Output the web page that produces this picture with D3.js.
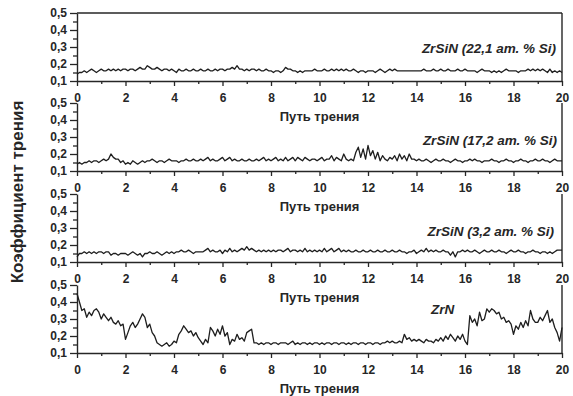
<!DOCTYPE html>
<html>
<head>
<meta charset="utf-8">
<script src="https://cdn.jsdelivr.net/npm/d3@7"></script>
<style>
  body { margin: 0; background: #fff; }
  text { font-family: "Liberation Sans", Arial, sans-serif; }
</style>
</head>
<body>
<script>

// friction distance, 0..20 step 0.1
var path_x = d3.range(0, 201).map(function(i){ return i / 10; });

// panel names, top to bottom
var panel_names = ["ZrSiN (22,1 ат. % Si)", "ZrSiN (17,2 ат. % Si)", "ZrSiN (3,2 ат. % Si)", "ZrN"];

var x_ticks = [0, 2, 4, 6, 8, 10, 12, 14, 16, 18, 20];
var y_ticks = [0.1, 0.2, 0.3, 0.4, 0.5];

// friction coefficient
var mu_22 = [.14,.15,.15,.16,.15,.16,.17,.16,.15,.16,
  .17,.16,.16,.17,.16,.17,.16,.17,.16,.17,
  .17,.16,.17,.17,.16,.17,.18,.17,.17,.19,
  .18,.17,.17,.18,.17,.16,.17,.17,.16,.17,
  .16,.15,.17,.16,.16,.17,.16,.16,.17,.16,
  .16,.17,.16,.16,.17,.16,.16,.17,.16,.17,
  .17,.16,.17,.17,.18,.17,.19,.17,.17,.16,
  .17,.16,.17,.17,.16,.17,.16,.16,.17,.16,
  .16,.15,.16,.16,.15,.16,.18,.17,.17,.16,
  .16,.15,.16,.15,.16,.16,.16,.16,.17,.16,
  .16,.16,.17,.16,.16,.17,.16,.17,.16,.17,
  .16,.17,.16,.16,.17,.16,.15,.16,.16,.15,
  .16,.16,.16,.15,.16,.17,.16,.15,.16,.17,
  .16,.17,.16,.16,.16,.16,.16,.16,.16,.16,
  .16,.16,.16,.17,.16,.16,.16,.17,.16,.16,
  .17,.16,.16,.17,.16,.16,.16,.17,.16,.16,
  .17,.16,.16,.16,.16,.15,.16,.17,.16,.16,
  .16,.15,.16,.15,.16,.15,.16,.17,.16,.16,
  .16,.16,.15,.16,.16,.16,.17,.16,.17,.16,
  .17,.16,.17,.16,.15,.17,.15,.16,.15,.16,
  .15];

var mu_17 = [.14,.15,.14,.15,.15,.16,.15,.16,.16,.15,
  .16,.17,.16,.17,.20,.18,.17,.17,.15,.16,
  .14,.15,.14,.16,.15,.14,.15,.16,.15,.16,
  .16,.17,.16,.15,.16,.16,.15,.16,.17,.16,
  .16,.16,.15,.16,.16,.17,.16,.16,.17,.16,
  .16,.17,.16,.17,.18,.16,.17,.16,.16,.17,
  .18,.16,.17,.18,.16,.17,.16,.16,.17,.16,
  .16,.17,.16,.16,.17,.16,.17,.18,.16,.17,
  .16,.17,.18,.16,.17,.16,.18,.16,.17,.18,
  .16,.18,.17,.16,.18,.17,.16,.17,.17,.16,
  .17,.18,.16,.17,.17,.19,.16,.18,.17,.16,
  .20,.17,.16,.17,.16,.21,.24,.18,.23,.17,
  .25,.19,.22,.17,.21,.16,.19,.17,.16,.18,
  .17,.19,.16,.20,.17,.19,.16,.20,.17,.17,
  .16,.17,.16,.16,.17,.16,.15,.16,.17,.16,
  .16,.17,.16,.16,.15,.16,.17,.16,.16,.15,
  .16,.16,.17,.16,.17,.16,.16,.15,.16,.16,
  .16,.17,.16,.16,.15,.16,.16,.17,.16,.16,
  .15,.16,.16,.17,.16,.16,.15,.16,.16,.17,
  .16,.16,.17,.16,.16,.15,.16,.17,.16,.16,
  .16];

var mu_3 = [.13,.15,.15,.16,.15,.16,.15,.16,.15,.16,
  .16,.15,.16,.16,.14,.15,.15,.14,.15,.15,
  .15,.14,.15,.16,.15,.14,.15,.13,.15,.15,
  .16,.15,.15,.16,.15,.14,.15,.16,.15,.16,
  .15,.16,.16,.17,.16,.16,.17,.16,.15,.16,
  .16,.16,.16,.17,.18,.16,.17,.16,.16,.17,
  .15,.17,.16,.18,.16,.17,.16,.17,.18,.17,
  .19,.17,.18,.17,.16,.17,.16,.17,.16,.17,
  .16,.17,.16,.17,.17,.16,.17,.18,.16,.17,
  .17,.16,.17,.16,.18,.16,.17,.16,.17,.16,
  .17,.16,.18,.16,.17,.18,.16,.17,.18,.16,
  .17,.16,.17,.16,.16,.17,.16,.16,.17,.16,
  .16,.17,.16,.16,.17,.16,.16,.17,.16,.16,
  .17,.16,.16,.17,.16,.16,.15,.16,.16,.17,
  .15,.16,.17,.16,.18,.16,.17,.16,.17,.16,
  .16,.17,.16,.16,.14,.16,.13,.16,.16,.17,
  .16,.17,.16,.16,.17,.16,.15,.16,.17,.16,
  .16,.17,.16,.16,.17,.16,.16,.15,.16,.17,
  .16,.16,.17,.16,.16,.15,.16,.16,.17,.16,
  .16,.15,.16,.16,.15,.16,.15,.16,.17,.17,
  .17];

var mu_zrn = [.45,.40,.35,.36,.31,.34,.32,.35,.36,.34,
  .30,.33,.31,.29,.31,.28,.27,.29,.26,.27,
  .18,.22,.26,.28,.25,.27,.30,.33,.31,.25,
  .27,.22,.20,.16,.15,.14,.15,.16,.14,.15,
  .17,.16,.21,.23,.26,.24,.22,.23,.20,.22,
  .19,.17,.15,.18,.16,.25,.23,.20,.24,.21,
  .26,.20,.22,.15,.18,.17,.21,.18,.19,.17,
  .22,.23,.24,.16,.16,.15,.16,.15,.16,.16,
  .15,.16,.16,.15,.16,.16,.16,.15,.16,.17,
  .15,.16,.15,.16,.16,.15,.16,.15,.16,.16,
  .15,.16,.15,.16,.16,.15,.16,.16,.15,.16,
  .16,.15,.16,.15,.16,.16,.15,.16,.16,.15,
  .16,.16,.15,.16,.16,.15,.16,.16,.17,.16,
  .17,.16,.16,.17,.16,.21,.18,.19,.17,.18,
  .17,.18,.17,.16,.18,.17,.17,.16,.18,.17,
  .19,.17,.20,.18,.21,.19,.17,.20,.18,.21,
  .17,.15,.32,.28,.30,.26,.34,.29,.30,.36,
  .34,.36,.35,.33,.34,.30,.31,.28,.29,.27,
  .21,.26,.24,.28,.25,.29,.26,.35,.30,.28,
  .28,.31,.29,.32,.35,.28,.30,.25,.22,.17,
  .25];

var all_series = [mu_22, mu_17, mu_3, mu_zrn];

var w = 573, h = 396;
var ink = "#262626";
var panel_tops = [13, 103, 194, 285];
var panel_h = 68;
var x_left = 77, x_right = 562;

var svg = d3.select("body").append("svg")
  .attr("width", w)
  .attr("height", h);

var x = d3.scaleLinear().domain([0, 20]).range([x_left, x_right]);

var fmt = function(d){ return d3.format(".1f")(d).replace(".", ","); };

// label placement for each panel (name pos)
var name_x = [556, 557, 554, 431];
var name_y = [53, 145, 236, 314];
var name_anchor = ["end", "end", "end", "start"];

for (var p = 0; p < 4; p++){
  // NB: "top" is window.top, don't use it
  var p_top = panel_tops[p];
  var p_bot = p_top + panel_h;
  var y = d3.scaleLinear().domain([0.1, 0.5]).range([p_bot, p_top]);
  var g = svg.append("g").attr("class", "panel" + p);

  // minor ticks first, no labels
  g.append("g")
    .attr("transform", "translate(0," + p_bot + ")")
    .call(d3.axisBottom(x).tickValues(d3.range(1, 20, 2)).tickSize(3).tickFormat(""))
    .call(function(a){ a.select(".domain").remove(); });
  g.append("g")
    .attr("transform", "translate(" + x_left + ",0)")
    .call(d3.axisLeft(y).tickValues([0.15, 0.25, 0.35, 0.45]).tickSize(4).tickFormat(""))
    .call(function(a){ a.select(".domain").remove(); });

  // x axis
  g.append("g")
    .attr("class", "xaxis")
    .attr("transform", "translate(0," + p_bot + ")")
    .call(d3.axisBottom(x).tickValues(x_ticks).tickSize(5).tickPadding(7).tickSizeOuter(0));

  // y axis
  g.append("g")
    .attr("class", "yaxis")
    .attr("transform", "translate(" + x_left + ",0)")
    .call(d3.axisLeft(y).tickValues(y_ticks).tickSize(7).tickPadding(3).tickSizeOuter(0).tickFormat(fmt));

  // right border
  g.append("line")
    .attr("x1", x_right).attr("x2", x_right)
    .attr("y1", p_top).attr("y2", p_bot)
    .style("stroke", ink).style("stroke-width", 1.4);

  if (p == 0){
    g.append("line")
      .attr("x1", x_left).attr("x2", x_right)
      .attr("y1", p_top).attr("y2", p_top)
      .style("stroke", ink).style("stroke-width", 1.4);
  }

  // the friction trace
  var line = d3.line()
    .x(function(d, i){ return x(path_x[i]); })
    .y(function(d){ return y(d); });

  g.append("path")
    .datum(all_series[p])
    .attr("d", line)
    .style("fill", "none")
    .style("stroke", "#1e1e1e")
    .style("stroke-width", 1.3)
    .style("stroke-linejoin", "round");

  g.append("text")
    .attr("x", name_x[p]).attr("y", name_y[p])
    .attr("text-anchor", name_anchor[p])
    .style("font-size", "13.5px").style("font-weight", "bold").style("font-style", "italic")
    .style("fill", ink)
    .text(panel_names[p]);

  g.append("text")
    .attr("x", (x_left + x_right) / 2).attr("y", p_bot + 40)
    .attr("text-anchor", "middle")
    .style("font-size", "13px").style("font-weight", "bold")
    .style("fill", ink)
    .text("Путь трения");
}

// axis styling
svg.selectAll(".domain").style("stroke", ink).style("stroke-width", 1.4);
svg.selectAll(".tick line").style("stroke", ink).style("stroke-width", 1.3);
svg.selectAll(".tick text")
  .style("font-size", "12px").style("font-weight", "bold")
  .style("font-family", "'Liberation Sans', Arial, sans-serif")
  .style("fill", ink);

// shared y label
svg.append("text")
  .attr("transform", "translate(23,192) rotate(-90)")
  .attr("text-anchor", "middle")
  .style("font-size", "17px").style("font-weight", "bold")
  .style("fill", ink)
  .text("Коэффициент трения");

</script>
</body>
</html>
